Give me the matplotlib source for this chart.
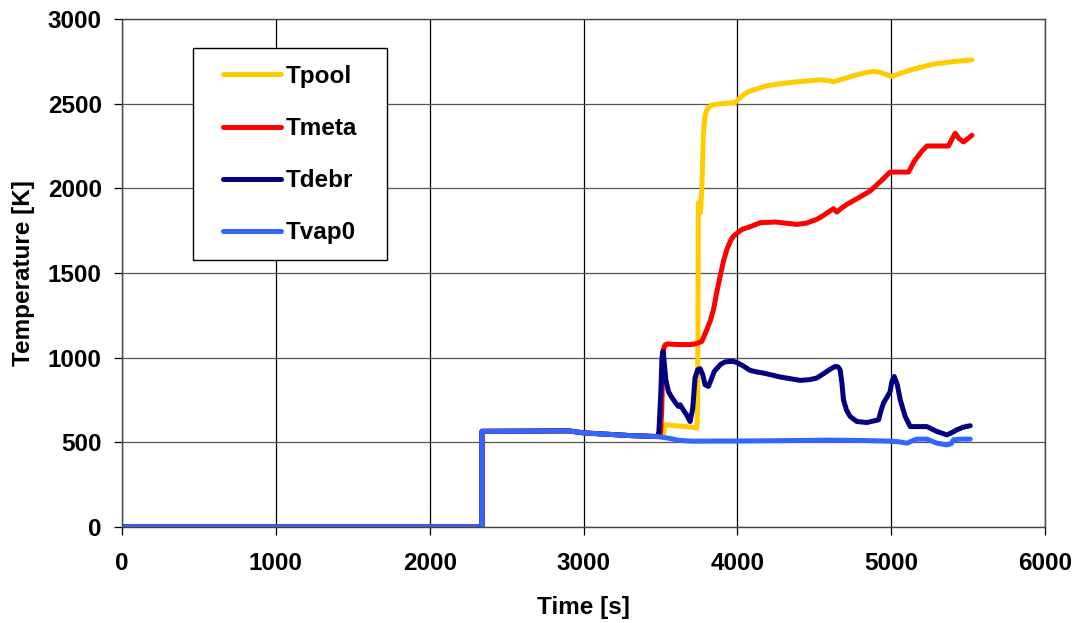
import matplotlib
matplotlib.use("Agg")
import matplotlib.pyplot as plt
from matplotlib.patches import Rectangle

plt.rcParams['font.family'] = ['Liberation Sans', 'DejaVu Sans']

# shared early part (all series coincide with Tvap0)
t_pre = [0, 2340, 2340, 2600, 2900, 3000, 3300, 3480]
v_pre = [0, 0, 565, 566, 568, 556, 540, 534]

t_pool = t_pre + [3500, 3520, 3530, 3600, 3700, 3738, 3742, 3747, 3756, 3760, 3769, 3780,
                  3790, 3800, 3812, 3830, 3866, 3986, 4018, 4061, 4100, 4192, 4300, 4387,
                  4538, 4600, 4625, 4700, 4755, 4820, 4885, 4928, 5004, 5080, 5145, 5275,
                  5400, 5525]
v_pool = v_pre + [540, 545, 604, 598, 590, 584, 800, 1915, 1880, 1856, 1994, 2329,
                  2428, 2460, 2477, 2490, 2497, 2507, 2536, 2566, 2580, 2606, 2620, 2629,
                  2641, 2635, 2629, 2650, 2665, 2680, 2691, 2685, 2661, 2685, 2704, 2734,
                  2748, 2759]

t_meta = t_pre + [3500, 3509, 3516, 3530, 3545, 3600, 3693, 3730, 3769, 3802, 3825, 3845,
                  3865, 3888, 3910, 3932, 3955, 3975, 4029, 4094, 4148, 4250, 4387, 4450,
                  4517, 4560, 4600, 4625, 4647, 4680, 4712, 4780, 4863, 4930, 4993, 5113,
                  5150, 5200, 5232, 5373, 5400, 5416, 5440, 5470, 5500, 5525]
v_meta = v_pre + [545, 700, 1040, 1075, 1081, 1078, 1077, 1082, 1096, 1166, 1220, 1284,
                  1380, 1481, 1570, 1639, 1690, 1718, 1757, 1777, 1797, 1801, 1787, 1795,
                  1817, 1840, 1865, 1880, 1860, 1885, 1905, 1940, 1984, 2040, 2096, 2096,
                  2160, 2220, 2250, 2250, 2300, 2325, 2295, 2274, 2295, 2314]

t_debr = t_pre + [3490, 3503, 3510, 3518, 3525, 3535, 3552, 3570, 3593, 3617, 3628, 3650,
                  3672, 3693, 3710, 3725, 3742, 3758, 3775, 3790, 3812, 3830, 3850, 3866,
                  3890, 3920, 3955, 3975, 4000, 4040, 4083, 4130, 4170, 4278, 4408, 4470,
                  4517, 4560, 4600, 4636, 4655, 4668, 4680, 4690, 4710, 4733, 4777, 4842,
                  4918, 4935, 4950, 4975, 4993, 5005, 5020, 5040, 5059, 5091, 5124, 5232,
                  5297, 5362, 5400, 5427, 5470, 5514]
v_debr = v_pre + [560, 800, 1000, 1037, 968, 870, 800, 771, 740, 712, 722, 690,
                  660, 623, 700, 880, 929, 935, 900, 840, 830, 870, 919, 935,
                  960, 975, 978, 978, 970, 950, 925, 915, 909, 886, 866, 870,
                  880, 905, 930, 948, 945, 929, 850, 751, 690, 653, 623, 617,
                  633, 690, 732, 770, 800, 860, 889, 840, 751, 653, 593, 593,
                  564, 544, 560, 574, 590, 598]

t_vap = t_pre + [3550, 3620, 3700, 4000, 4300, 4600, 4800, 5000, 5060, 5102, 5140, 5167,
                 5232, 5270, 5297, 5362, 5390, 5405, 5450, 5514]
v_vap = v_pre + [525, 512, 507, 508, 510, 513, 511, 507, 502, 495, 510, 519,
                 519, 505, 495, 485, 492, 515, 519, 519]

labels = ['Tpool', 'Tmeta', 'Tdebr', 'Tvap0']
colors = ['#FFCC00', '#FF0000', '#000080', '#3366FF']
x_ticks = [0, 1000, 2000, 3000, 4000, 5000, 6000]
y_ticks = [0, 500, 1000, 1500, 2000, 2500, 3000]

FS = 17.5
W, H = 1076, 623
fig = plt.figure(figsize=(W / 100, H / 100), dpi=100)
ax = fig.add_axes([122 / W, 1 - 527 / H, (1045 - 122) / W, (527 - 19) / H])

for t, v, lab, c in zip([t_pool, t_meta, t_debr, t_vap],
                        [v_pool, v_meta, v_debr, v_vap], labels, colors):
    ax.plot(t, v, color=c, lw=3.6, label=lab, solid_capstyle='round',
            solid_joinstyle='round')

ax.set_xlim(0, 6000)
ax.set_ylim(0, 3000)
ax.set_xticks(x_ticks)
ax.set_yticks(y_ticks)
ax.xaxis.grid(True, color='black', lw=0.9)
ax.yaxis.grid(True, color='#555555', lw=0.9)
ax.set_axisbelow(True)
for s in ax.spines.values():
    s.set_color('#444444')
    s.set_linewidth(1.0)
ax.tick_params(labelsize=FS, direction='out', length=6, width=0.9)
ax.tick_params(axis='x', pad=12.3)
ax.tick_params(axis='y', pad=8.6)
for lbl in ax.get_xticklabels() + ax.get_yticklabels():
    lbl.set_fontweight('bold')
ax.set_xlabel('Time [s]', fontsize=FS, fontweight='bold', labelpad=15)
ax.set_ylabel('Temperature [K]', fontsize=FS, fontweight='bold', labelpad=9.5)

# legend frame (drawn inside the axes' artist list so it sits above the grid)
frame = Rectangle((193 / W, 1 - 260 / H), (387 - 193) / W, (260 - 48) / H,
                  transform=fig.transFigure, facecolor='white', edgecolor='black',
                  lw=1.0, zorder=4, clip_on=False)
ax.add_patch(frame)
leg = ax.legend(loc='upper left', bbox_to_anchor=(223 / W, 1 - 65 / H),
                bbox_transform=fig.transFigure, prop={'size': FS, 'weight': 'bold'},
                frameon=False, handlelength=2.4, handletextpad=0.2,
                labelspacing=1.2, borderpad=0, borderaxespad=0)
leg.set_zorder(5)

fig.savefig('out.png', dpi=100)
